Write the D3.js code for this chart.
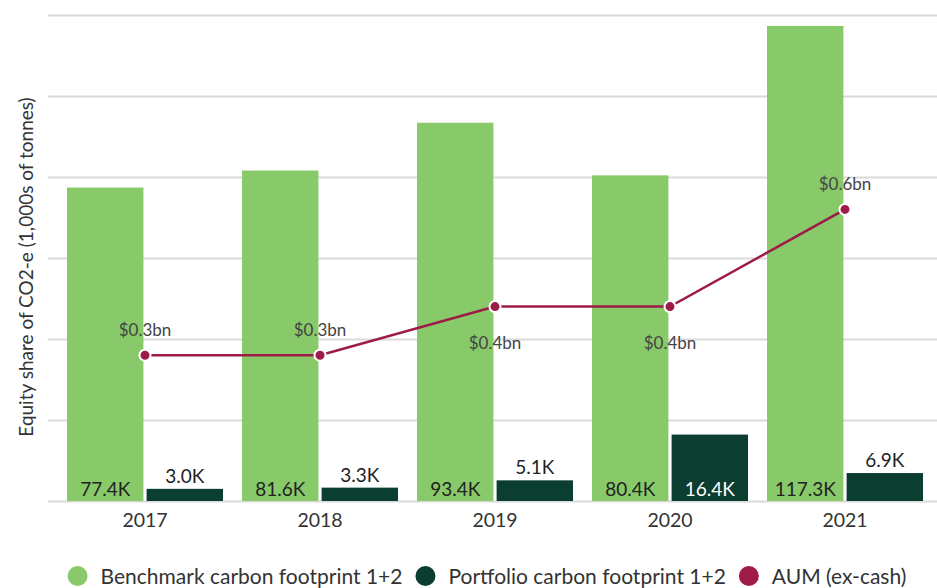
<!DOCTYPE html>
<html>
<head>
<meta charset="utf-8">
<script src="https://cdn.jsdelivr.net/npm/d3@7"></script>
<style>
  html, body { margin: 0; padding: 0; background: #fff; }
  svg { display: block; font-family: Lato, "Open Sans", sans-serif; }
</style>
</head>
<body>
<svg id="chart" width="937" height="588"></svg>
<script>
const categories = ["2017", "2018", "2019", "2020", "2021"];
const benchmark = [77.4, 81.6, 93.4, 80.4, 117.3];
const portfolio = [3.0, 3.3, 5.1, 16.4, 6.9];
const aum = [0.3, 0.3, 0.4, 0.4, 0.6];
const yTicks = [0, 20, 40, 60, 80, 100, 120];
const aumLabelSide = ["above", "above", "below", "below", "above"];
const seriesNames = ["Benchmark carbon footprint 1+2", "Portfolio carbon footprint 1+2", "AUM (ex-cash)"];
const yTitle = "Equity share of CO2-e (1,000s of tonnes)";

const colors = { bench: "#88C96A", port: "#0C3D31", aum: "#9E1A47" };

const svg = d3.select("#chart");
const plotLeft = 48, plotRight = 937, plotTop = 15, base = 501;

const x = d3.scaleBand().domain(categories).range([57.5, 932.5]).padding(0);
const inner = d3.scaleBand().domain(["bench", "port"]).range([-78, 78]).paddingInner(0.04);
const y = d3.scaleLinear().domain([0, 120]).range([base, plotTop]);
const y2 = d3.scaleLinear().domain([0, 1]).range([base, plotTop]);
const cx = c => x(c) + x.bandwidth() / 2;

// grid
svg.append("g").selectAll("line").data(yTicks).join("line")
  .attr("x1", plotLeft).attr("x2", plotRight)
  .attr("y1", d => Math.round(y(d)) + 0.5).attr("y2", d => Math.round(y(d)) + 0.5)
  .attr("stroke", "#dadada").attr("stroke-width", 2);

// y title
svg.append("text")
  .attr("transform", `translate(33,${(plotTop + base) / 2 + 9}) rotate(-90)`)
  .attr("text-anchor", "middle")
  .attr("fill", "#333").attr("font-size", 19)
  .text(yTitle);

// bars
const g = svg.append("g");
g.selectAll("rect.b").data(categories).join("rect")
  .attr("x", (c) => cx(c) + inner("bench"))
  .attr("width", inner.bandwidth())
  .attr("y", (c, i) => y(benchmark[i]))
  .attr("height", (c, i) => base - y(benchmark[i]))
  .attr("fill", colors.bench);
g.selectAll("rect.p").data(categories).join("rect")
  .attr("x", (c) => cx(c) + inner("port"))
  .attr("width", inner.bandwidth())
  .attr("y", (c, i) => y(portfolio[i]))
  .attr("height", (c, i) => base - y(portfolio[i]))
  .attr("fill", colors.port);

// x axis
const xAxis = svg.append("g").attr("transform", `translate(0,${base})`)
  .call(d3.axisBottom(x).tickSize(0).tickPadding(12));
xAxis.select(".domain").remove();
xAxis.selectAll("text").attr("font-size", 19.5).attr("fill", "#333").attr("font-family", "Lato, sans-serif");

// bar labels
g.selectAll("text.bl").data(categories).join("text")
  .attr("x", c => cx(c) + inner("bench") + inner.bandwidth() / 2)
  .attr("y", base - 5)
  .attr("text-anchor", "middle").attr("font-size", 19).attr("fill", "#222")
  .text((c, i) => benchmark[i].toFixed(1) + "K");
g.selectAll("text.pl").data(categories).join("text")
  .attr("x", c => cx(c) + inner("port") + inner.bandwidth() / 2)
  .attr("y", (c, i) => (base - y(portfolio[i]) > 32) ? base - 5 : y(portfolio[i]) - 6)
  .attr("text-anchor", "middle").attr("font-size", 19)
  .attr("fill", (c, i) => (base - y(portfolio[i]) > 32) ? "#fff" : "#222")
  .text((c, i) => portfolio[i].toFixed(1) + "K");

// AUM line
const line = d3.line().x((d, i) => cx(categories[i])).y(d => y2(d));
svg.append("path").datum(aum).attr("d", line)
  .attr("fill", "none").attr("stroke", colors.aum).attr("stroke-width", 2.5);
svg.append("g").selectAll("circle").data(aum).join("circle")
  .attr("cx", (d, i) => cx(categories[i])).attr("cy", d => y2(d))
  .attr("r", 5.5).attr("fill", colors.aum).attr("stroke", "#fff").attr("stroke-width", 2);
svg.append("g").selectAll("text").data(aum).join("text")
  .attr("x", (d, i) => cx(categories[i]))
  .attr("y", (d, i) => aumLabelSide[i] === "above" ? y2(d) - 19 : y2(d) + 42)
  .attr("text-anchor", "middle").attr("font-size", 17).attr("fill", "#444")
  .text(d => "$" + d.toFixed(1) + "bn");

// legend
const legend = svg.append("g");
const legendColors = [colors.bench, colors.port, colors.aum];
let xpos = 0;
const gap = 13;
seriesNames.forEach((name, i) => {
  const it = legend.append("g");
  it.append("circle").attr("cx", 10).attr("cy", 0).attr("r", 10).attr("fill", legendColors[i]);
  const t = it.append("text").attr("x", 20 + gap).attr("y", 8).attr("font-size", 21).attr("fill", "#333").text(name);
  const w = 20 + gap + t.node().getComputedTextLength();
  it.attr("transform", `translate(${xpos},576)`);
  xpos += w + gap;
});
const totalW = xpos - gap;
legend.attr("transform", `translate(${487 - totalW / 2},0)`);
</script>
</body>
</html>
